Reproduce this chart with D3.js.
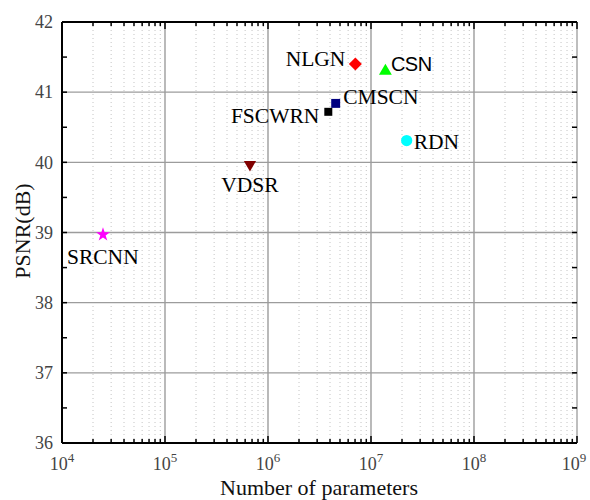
<!DOCTYPE html>
<html>
<head>
<meta charset="utf-8">
<script src="https://cdn.jsdelivr.net/npm/d3@7"></script>
<style>
  body { margin: 0; background: #fff; }
  svg { display: block; }
</style>
</head>
<body>
<svg id="chart" width="590" height="500"></svg>
<script>
const methods = ['SRCNN', 'VDSR', 'FSCWRN', 'CMSCN', 'NLGN', 'CSN', 'RDN'];
const params = [2.5e4, 6.68e5, 3.85e6, 4.54e6, 7.05e6, 1.38e7, 2.22e7];
const psnr = [38.97, 39.97, 40.72, 40.84, 41.40, 41.30, 40.31];
const colors = ['#ff00ff', '#800000', '#000000', '#000080', '#ff0000', '#00ff00', '#00ffff'];
const shapes = ['star', 'triangleDown', 'square', 'square', 'diamond', 'triangle', 'circle'];
const xTicks = [1e4, 1e5, 1e6, 1e7, 1e8, 1e9];
const yTicks = [36, 37, 38, 39, 40, 41, 42];

const svg = d3.select('#chart');
const margin = { top: 22, right: 13, bottom: 57, left: 62 };
const width = +svg.attr('width');
const height = +svg.attr('height');
const innerWidth = width - margin.left - margin.right;
const innerHeight = height - margin.top - margin.bottom;

const g = svg.append('g')
    .attr('transform', `translate(${margin.left}, ${margin.top})`);

const x = d3.scaleLog().domain([1e4, 1e9]).range([0, innerWidth]);
const y = d3.scaleLinear().domain([36, 42]).range([innerHeight, 0]);

// minor ticks for the log axis
const minorX = [];
xTicks.slice(0, -1).forEach(t => {
  for (let k = 2; k <= 9; k++) minorX.push(t * k);
});
const halfY = yTicks.slice(0, -1).map(t => t + 0.5);

// dotted minor grid
g.selectAll('.minor-grid')
  .data(minorX)
  .enter().append('line')
    .attr('x1', d => x(d)).attr('x2', d => x(d))
    .attr('y1', 0).attr('y2', innerHeight)
    .attr('stroke', '#c4c4c4')
    .attr('stroke-width', 1)
    .attr('stroke-dasharray', '1,3');

// major grid
g.selectAll('.vgrid')
  .data(xTicks.slice(1, -1))
  .enter().append('line')
    .attr('x1', d => x(d)).attr('x2', d => x(d))
    .attr('y1', 0).attr('y2', innerHeight)
    .attr('stroke', '#9c9c9c')
    .attr('stroke-width', 1.4);

g.selectAll('.hgrid')
  .data(yTicks.slice(1, -1))
  .enter().append('line')
    .attr('x1', 0).attr('x2', innerWidth)
    .attr('y1', d => y(d)).attr('y2', d => y(d))
    .attr('stroke', '#9c9c9c')
    .attr('stroke-width', 1.4);

// frame
g.append('line').attr('x1', innerWidth).attr('x2', innerWidth)
  .attr('y1', 0).attr('y2', innerHeight)
  .attr('stroke', '#a8a8a8').attr('stroke-width', 1.5);
g.append('line').attr('x1', 0).attr('x2', innerWidth)
  .attr('y1', 0).attr('y2', 0)
  .attr('stroke', '#000').attr('stroke-width', 2);
g.append('line').attr('x1', 0).attr('x2', innerWidth)
  .attr('y1', innerHeight).attr('y2', innerHeight)
  .attr('stroke', '#000').attr('stroke-width', 2);
g.append('line').attr('x1', 0).attr('x2', 0)
  .attr('y1', 0).attr('y2', innerHeight)
  .attr('stroke', '#000').attr('stroke-width', 2);

// inward ticks
const tickG = g.append('g').attr('stroke', '#000').attr('stroke-width', 1.5);
minorX.forEach(d => {
  tickG.append('line').attr('x1', x(d)).attr('x2', x(d)).attr('y1', innerHeight).attr('y2', innerHeight - 4);
  tickG.append('line').attr('x1', x(d)).attr('x2', x(d)).attr('y1', 0).attr('y2', 4);
});
xTicks.forEach(d => {
  tickG.append('line').attr('x1', x(d)).attr('x2', x(d)).attr('y1', innerHeight).attr('y2', innerHeight - 7);
  tickG.append('line').attr('x1', x(d)).attr('x2', x(d)).attr('y1', 0).attr('y2', 7);
});
yTicks.concat(halfY).forEach(d => {
  tickG.append('line').attr('x1', 0).attr('x2', 5).attr('y1', y(d)).attr('y2', y(d));
  tickG.append('line').attr('x1', innerWidth).attr('x2', innerWidth - 5).attr('y1', y(d)).attr('y2', y(d));
});

// tick labels
const font = "'Liberation Serif', 'Times New Roman', serif";
g.selectAll('.ylab')
  .data(yTicks)
  .enter().append('text')
    .attr('x', -9)
    .attr('y', d => y(d))
    .attr('dy', '0.35em')
    .attr('text-anchor', 'end')
    .attr('font-family', font)
    .attr('font-size', 18)
    .attr('fill', '#444')
    .text(d => d);

const xl = g.selectAll('.xlab')
  .data(xTicks)
  .enter().append('text')
    .attr('x', d => x(d) - (d === 1e9 ? 3 : 0))
    .attr('y', innerHeight + 27)
    .attr('text-anchor', 'middle')
    .attr('font-family', font)
    .attr('font-size', 18)
    .attr('fill', '#444');
xl.append('tspan').text('10');
xl.append('tspan')
  .attr('dy', -8)
  .attr('font-size', 13)
  .text(d => Math.round(Math.log10(d)));

// axis titles
svg.append('text')
  .attr('x', 319)
  .attr('y', 495)
  .attr('text-anchor', 'middle')
  .attr('font-family', font)
  .attr('font-size', 22)
  .attr('fill', '#111')
  .text('Number of parameters');

svg.append('text')
  .attr('transform', 'translate(30, 231) rotate(-90)')
  .attr('text-anchor', 'middle')
  .attr('font-family', font)
  .attr('font-size', 22)
  .attr('fill', '#111')
  .text('PSNR(dB)');

// markers
const symbolOf = {
  star: d3.symbolStar,
  triangle: d3.symbolTriangle,
  triangleDown: d3.symbolTriangle,
  square: d3.symbolSquare,
  diamond: d3.symbolSquare,
  circle: d3.symbolCircle
};
const sizeOf = { star: 60, triangle: 72, triangleDown: 65, square: 80, diamond: 85, circle: 100 };
const rotateOf = { triangleDown: 180, diamond: 45 };

const points = methods.map((m, i) => ({ name: m, px: params[i], v: psnr[i], color: colors[i], shape: shapes[i] }));

g.selectAll('.pt')
  .data(points)
  .enter().append('path')
    .attr('d', d => d3.symbol().type(symbolOf[d.shape]).size(d.name === 'FSCWRN' ? 64 : sizeOf[d.shape])())
    .attr('transform', d => `translate(${x(d.px)}, ${y(d.v)}) rotate(${rotateOf[d.shape] || 0})`)
    .attr('fill', d => d.color);

// labels
const labelPos = {
  SRCNN:  { dx: -36, dy: 29, anchor: 'start' },
  VDSR:   { dx: 0, dy: 28, anchor: 'middle' },
  FSCWRN: { dx: -9, dy: 11, anchor: 'end' },
  CMSCN:  { dx: 7.5, dy: 1, anchor: 'start' },
  NLGN:   { dx: -10, dy: 2, anchor: 'end' },
  CSN:    { dx: 5.5, dy: 0, anchor: 'start' },
  RDN:    { dx: 7, dy: 8, anchor: 'start' }
};

g.selectAll('.lbl')
  .data(points)
  .enter().append('text')
    .attr('x', d => x(d.px) + labelPos[d.name].dx)
    .attr('y', d => y(d.v) + labelPos[d.name].dy)
    .attr('text-anchor', d => labelPos[d.name].anchor)
    .attr('font-family', d => d.name === 'CSN' ? "'Liberation Sans', Arial, sans-serif" : font)
    .attr('font-size', d => d.name === 'CSN' ? 20 : 21.5)
    .attr('letter-spacing', d => d.name === 'CSN' ? -0.5 : 0)
    .attr('fill', '#000')
    .text(d => d.name);
</script>
</body>
</html>
